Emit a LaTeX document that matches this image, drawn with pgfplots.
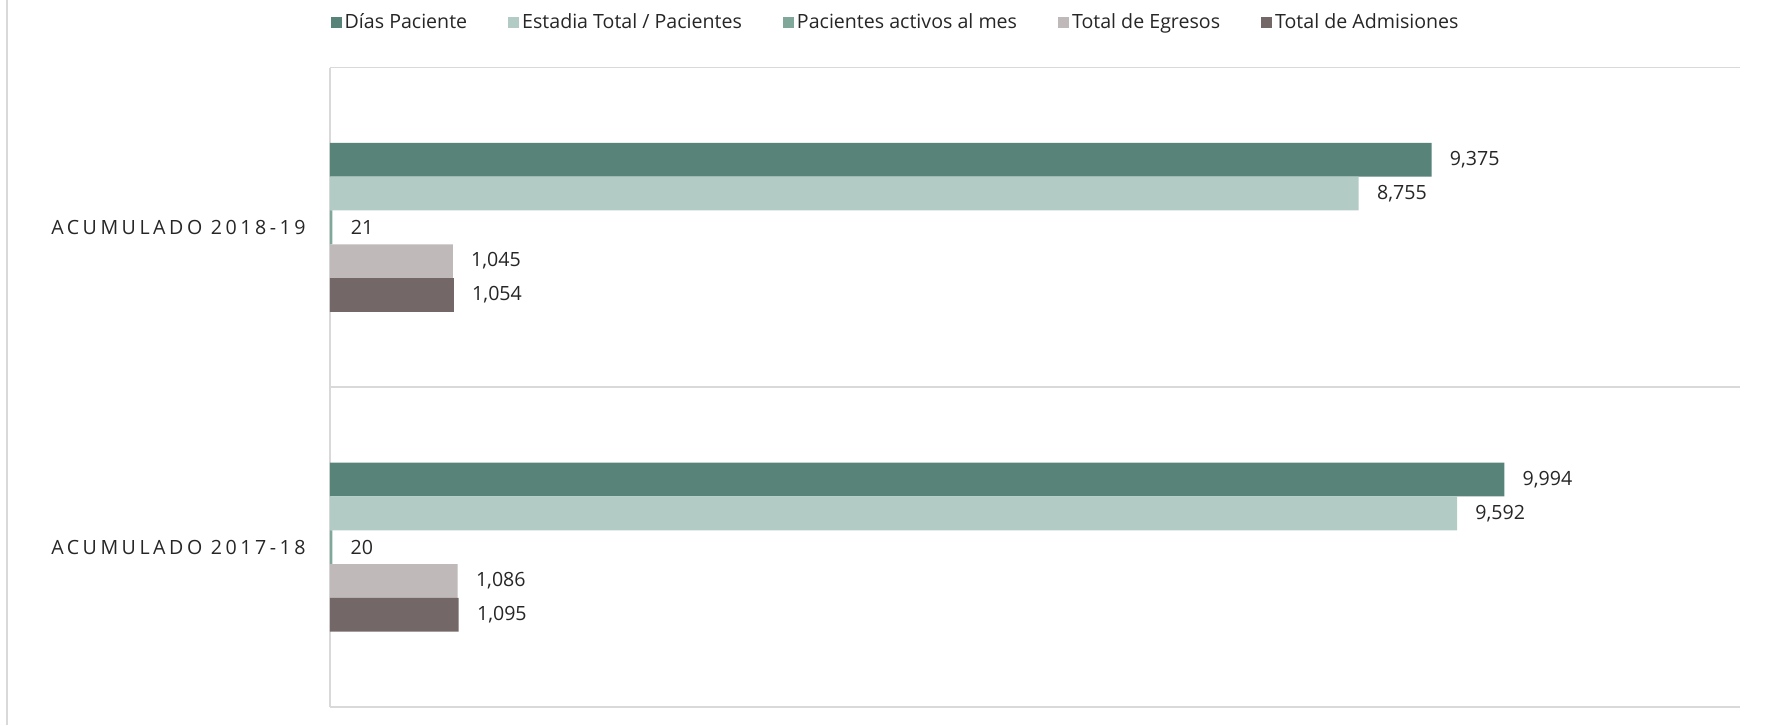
\documentclass[border=0pt]{standalone}
\usepackage{pgfplots}
\pgfplotsset{compat=1.18}
\usepackage{fontspec}
\setmainfont{Open Sans}
\newfontfamily\spacedfont[LetterSpace=18]{Open Sans}
\definecolor{cDias}{HTML}{588379}
\definecolor{cEst}{HTML}{B2CCC5}
\definecolor{cPac}{HTML}{7FA89B}
\definecolor{cEgr}{HTML}{BFB9B9}
\definecolor{cAdm}{HTML}{736867}
\definecolor{cGrid}{HTML}{D9D9D9}
\begin{document}
\begin{tikzpicture}[font=\fontsize{9.8}{11.5}\selectfont]
\path[use as bounding box] (-165pt,-9pt) rectangle (717.5pt,353.5pt);
\draw[cGrid, line width=0.8pt] (-161.5pt,-9pt) -- (-161.5pt,353.5pt);
\begin{axis}[
  at={(0pt,0pt)}, anchor=south west,
  scale only axis, width=705pt, height=319.75pt,
  xbar, bar width=0.1056,
  xmin=0, xmax=12000, ymin=-0.5, ymax=1.5,
  axis x line=none, axis y line*=left,
  y axis line style={draw=cGrid, line width=0.8pt},
  ytick={0,1}, yticklabels={ACUMULADO 2017-18, ACUMULADO 2018-19},
  yticklabel style={font={\fontsize{9.8}{11.5}\spacedfont}, text=black!85, anchor=east, inner sep=0pt, xshift=-12pt},
  extra y ticks={-0.5,0.5,1.5}, extra y tick labels={},
  extra y tick style={grid=major, major grid style={draw=cGrid, line width=0.8pt}},
  major tick length=0pt,
  point meta=x,
  /pgf/number format/1000 sep={,},
  /pgf/number format/assume math mode=true,
  nodes near coords,
  nodes near coords style={anchor=west, inner sep=0pt, xshift=9pt, text=black!85},
  legend columns=5,
  legend cell align=left,
  legend style={at={(0.4015,1.0705)}, anchor=center, draw=none, fill=none,
    nodes={inner sep=1.5pt, text=black!85},
    /tikz/every even column/.append style={column sep=19pt}},
  legend image code/.code={\fill[#1] (0pt,-2.75pt) rectangle (5.5pt,2.75pt);},
]
\addplot[fill=cDias, draw=none, bar shift=0.2113] coordinates {(9994,0) (9375,1)};
\addlegendentry{Días Paciente}
\addplot[fill=cEst, draw=none, bar shift=0.1056] coordinates {(9592,0) (8755,1)};
\addlegendentry{Estadia Total / Pacientes}
\addplot[fill=cPac, draw=none, bar shift=0] coordinates {(20,0) (21,1)};
\addlegendentry{Pacientes activos al mes}
\addplot[fill=cEgr, draw=none, bar shift=-0.1056] coordinates {(1086,0) (1045,1)};
\addlegendentry{Total de Egresos}
\addplot[fill=cAdm, draw=none, bar shift=-0.2113] coordinates {(1095,0) (1054,1)};
\addlegendentry{Total de Admisiones}
\end{axis}
\end{tikzpicture}
\end{document}
